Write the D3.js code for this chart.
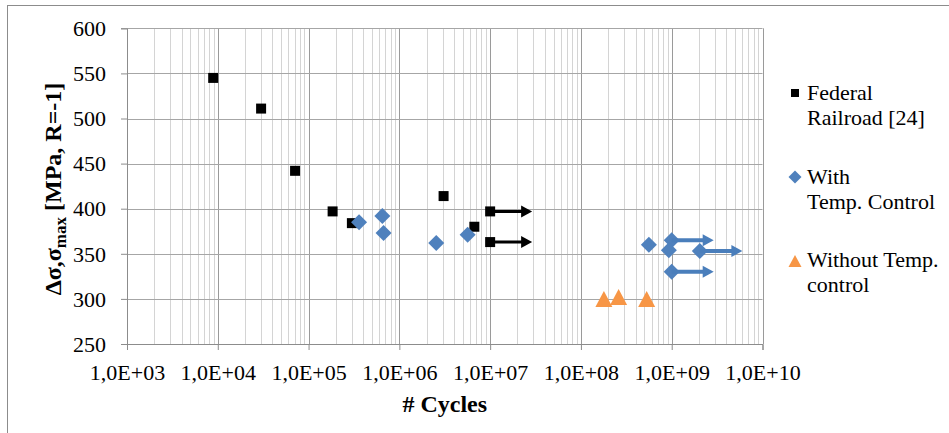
<!DOCTYPE html>
<html>
<head>
<meta charset="utf-8">
<script src="https://cdn.jsdelivr.net/npm/d3@7/dist/d3.min.js"></script>
<style>
  body { margin: 0; background: #fff; }
</style>
</head>
<body>
<svg id="chart" width="949" height="433" font-family="Liberation Serif"></svg>
<script>
// Fatigue test results: cycles to failure vs stress amplitude
const federalCycles = [8.9e3, 3.0e4, 7.1e4, 1.84e5, 3.0e5, 3.07e6, 6.7e6, 1.0e7, 1.0e7];
const federalStress = [545, 511, 442, 397, 384, 414, 380, 397, 363];

const withCycles = [3.6e5, 6.5e5, 6.7e5, 2.55e6, 5.65e6, 5.6e8, 1.0e9, 9.3e8, 2.04e9, 1.0e9];
const withStress = [385, 392, 373, 362, 371, 360, 365, 354, 353, 330];

const withoutCycles = [1.79e8, 2.6e8, 5.3e8];
const withoutStress = [300, 302, 300];

// Run-outs (specimens that did not fail): start point and arrow end
const federalRunoutStart = [1.0e7, 1.0e7];
const federalRunoutEnd = [2.9e7, 2.9e7];
const federalRunoutStress = [397, 363];

const withRunoutStart = [1.0e9, 2.04e9, 1.0e9];
const withRunoutEnd = [2.9e9, 6.0e9, 2.9e9];
const withRunoutStress = [365, 353, 330];

const xTickValues = [1e3, 1e4, 1e5, 1e6, 1e7, 1e8, 1e9, 1e10];
const xTickLabels = ["1,0E+03", "1,0E+04", "1,0E+05", "1,0E+06", "1,0E+07", "1,0E+08", "1,0E+09", "1,0E+10"];
const yTickValues = [250, 300, 350, 400, 450, 500, 550, 600];

const seriesNames = [["Federal", "Railroad [24]"], ["With", "Temp. Control"], ["Without Temp.", "control"]];
const colors = { federal: "#000000", withT: "#4f81bd", withArrow: "#4a7ebb", without: "#f79646" };
const SERIF = "Liberation Serif";

const svg = d3.select("#chart");
const plotLeft = 127, plotRight = 762.5, plotTop = 28.3, plotBottom = 344;

const x = d3.scaleLog().domain([1e3, 1e10]).range([plotLeft, plotRight]);
const y = d3.scaleLinear().domain([250, 600]).range([plotBottom, plotTop]);

// chart frame
svg.append("rect")
  .attr("x", 7.5).attr("y", 5.5).attr("width", 960).attr("height", 460)
  .attr("fill", "#fff").attr("stroke", "#8c8c8c").attr("stroke-width", 1);

// minor vertical gridlines
const minor = [];
for (let d = 3; d < 10; d++) for (let k = 2; k <= 9; k++) minor.push(k * Math.pow(10, d));
svg.append("g").selectAll("line").data(minor).join("line")
  .attr("x1", d => Math.round(x(d)) + 0.5).attr("x2", d => Math.round(x(d)) + 0.5)
  .attr("y1", plotTop).attr("y2", plotBottom)
  .attr("stroke", "#d4d4d4").attr("stroke-width", 1);

// major gridlines
svg.append("g").selectAll("line").data(xTickValues).join("line")
  .attr("x1", d => Math.round(x(d)) + 0.5).attr("x2", d => Math.round(x(d)) + 0.5)
  .attr("y1", plotTop).attr("y2", plotBottom)
  .attr("stroke", "#9a9a9a").attr("stroke-width", 1);
svg.append("g").selectAll("line").data(yTickValues).join("line")
  .attr("x1", plotLeft).attr("x2", plotRight)
  .attr("y1", d => Math.round(y(d)) + 0.5).attr("y2", d => Math.round(y(d)) + 0.5)
  .attr("stroke", "#a6a6a6").attr("stroke-width", 1.2);

// axes
const xAxis = d3.axisBottom(x).tickValues(xTickValues)
  .tickFormat((d, i) => xTickLabels[i]).tickSize(6).tickPadding(10);
const gx = svg.append("g").attr("transform", `translate(0,${plotBottom})`).call(xAxis)
  .attr("font-family", SERIF);
gx.select(".domain").attr("stroke", "#8c8c8c");
gx.selectAll(".tick line").attr("stroke", "#8c8c8c");
gx.selectAll(".tick text").style("font-family", SERIF).style("font-size", "22px").attr("fill", "#000").attr("dy", "0.9em");

const yAxis = d3.axisLeft(y).tickValues(yTickValues).tickSize(6).tickPadding(15);
const gy = svg.append("g").attr("transform", `translate(${plotLeft},0)`).call(yAxis)
  .attr("font-family", SERIF);
gy.select(".domain").attr("stroke", "#8c8c8c");
gy.selectAll(".tick line").attr("stroke", "#8c8c8c");
gy.selectAll(".tick text").style("font-family", SERIF).style("font-size", "22px").attr("fill", "#000").attr("dy", "0.33em");

// axis titles
svg.append("text")
  .attr("x", (plotLeft + plotRight) / 2).attr("y", 411.5)
  .attr("text-anchor", "middle")
  .style("font-family", SERIF).style("font-weight", "bold").style("font-size", "24px")
  .text("# Cycles");

const yt = svg.append("text")
  .attr("transform", "translate(61,189) rotate(-90)")
  .attr("text-anchor", "middle")
  .style("font-family", SERIF).style("font-weight", "bold").style("font-size", "24px");
yt.append("tspan").text("Δσ,σ");
yt.append("tspan").style("font-size", "17px").attr("dy", 5).text("max");
yt.append("tspan").attr("dy", -5).text(" [MPa, R=-1]");

// marker shapes
const squarePath = s => `M${-s},${-s}H${s}V${s}H${-s}Z`;
const diamondPath = s => `M0,${-s}L${s},0L0,${s}L${-s},0Z`;
const trianglePath = (w, h) => `M0,${-h / 2}L${w / 2},${h / 2}L${-w / 2},${h / 2}Z`;

// run-out arrows
function arrows(starts, ends, stresses, color, width) {
  const g = svg.append("g");
  const headLen = 11, headHalf = 6;
  const data = starts.map((s, i) => ({ s, e: ends[i], v: stresses[i] }));
  g.selectAll("line").data(data).join("line")
    .attr("x1", d => x(d.s)).attr("x2", d => x(d.e) - headLen + 1)
    .attr("y1", d => y(d.v)).attr("y2", d => y(d.v))
    .attr("stroke", color).attr("stroke-width", width);
  g.selectAll("path").data(data).join("path")
    .attr("d", d => {
      const xe = x(d.e), yy = y(d.v);
      return `M${xe},${yy}L${xe - headLen},${yy - headHalf}L${xe - headLen},${yy + headHalf}Z`;
    })
    .attr("fill", color);
}

// Federal Railroad
const fed = federalCycles.map((c, i) => ({ c, v: federalStress[i] }));
svg.append("g").selectAll("path").data(fed).join("path")
  .attr("transform", d => `translate(${x(d.c)},${y(d.v)})`)
  .attr("d", squarePath(5)).attr("fill", colors.federal);
arrows(federalRunoutStart, federalRunoutEnd, federalRunoutStress, colors.federal, 3);

// With temperature control
const wt = withCycles.map((c, i) => ({ c, v: withStress[i] }));
svg.append("g").selectAll("path").data(wt).join("path")
  .attr("transform", d => `translate(${x(d.c)},${y(d.v)})`)
  .attr("d", diamondPath(8)).attr("fill", colors.withT);
arrows(withRunoutStart, withRunoutEnd, withRunoutStress, colors.withArrow, 4);

// Without temperature control
const wo = withoutCycles.map((c, i) => ({ c, v: withoutStress[i] }));
svg.append("g").selectAll("path").data(wo).join("path")
  .attr("transform", d => `translate(${x(d.c)},${y(d.v)})`)
  .attr("d", trianglePath(17, 16)).attr("fill", colors.without);

// legend
const legend = svg.append("g");
const legendRows = [
  { y: 100, marker: squarePath(4), color: colors.federal, my: 93 },
  { y: 184, marker: diamondPath(6.5), color: colors.withT, my: 177 },
  { y: 267, marker: trianglePath(13, 12), color: colors.without, my: 261 }
];
legendRows.forEach((r, i) => {
  legend.append("path").attr("transform", `translate(795,${r.my})`).attr("d", r.marker).attr("fill", r.color);
  seriesNames[i].forEach((line, j) => {
    legend.append("text").attr("x", 807).attr("y", r.y + j * 25.3)
      .style("font-family", SERIF).style("font-size", "22px").attr("fill", "#000")
      .text(line);
  });
});
</script>
</body>
</html>
